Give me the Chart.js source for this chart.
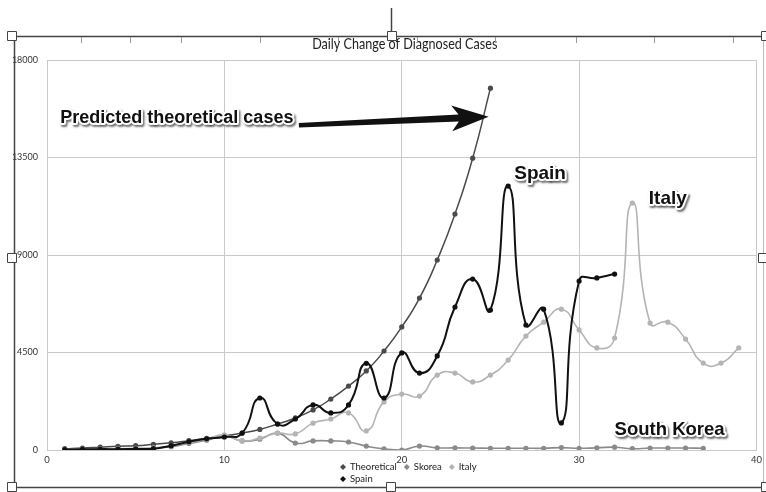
<!DOCTYPE html>
<html><head><meta charset="utf-8">
<script src="https://cdn.jsdelivr.net/npm/chart.js@4/dist/chart.umd.min.js"></script>
<style>html,body{margin:0;padding:0;background:#fff}canvas{display:block}</style>
</head><body>
<canvas id="c" width="766" height="492"></canvas>
<script>
const chartTitle = 'Daily Change of Diagnosed Cases';
const seriesNames = ['Theoretical', 'Skorea', 'Italy', 'Spain'];
const theoreticalDays = [1,2,3,4,5,6,7,8,9,10,11,12,13,14,15,16,17,18,19,20,21,22,23,24,25];
const theoretical = [60,90,130,170,200,260,330,430,540,650,780,950,1200,1480,1850,2350,2950,3650,4570,5680,7010,8770,10890,13470,16700];
const skoreaDays = [1,2,3,4,5,6,7,8,9,10,11,12,13,14,15,16,17,18,19,20,21,22,23,24,25,26,27,28,29,30,31,32,33,34,35,36,37];
const skorea = [30,30,40,50,60,80,150,300,450,650,420,500,780,320,420,420,370,180,50,0,180,100,100,90,80,80,80,80,110,80,100,130,60,90,90,90,80];
const italyDays = [1,2,3,4,5,6,7,8,9,10,11,12,13,14,15,16,17,18,19,20,21,22,23,24,25,26,27,28,29,30,31,32,33,34,35,36,37,38,39];
const italy = [20,30,50,60,80,100,200,350,500,700,420,550,780,740,1240,1430,1710,880,2220,2580,2490,3460,3550,3140,3460,4150,5260,5900,6500,5540,4710,5170,11400,5860,5900,5120,4010,4010,4710];
const spainDays = [1,2,3,4,5,6,7,8,9,10,11,12,13,14,15,16,17,18,19,20,21,22,23,24,25,26,27,28,29,30,31,32];
const spain = [20,30,40,40,50,60,200,380,520,600,780,2400,1200,1430,2080,1710,2080,4000,2400,4480,3550,4340,6600,7890,6460,12180,5770,6500,1250,7800,7940,8120];
const xTicks = [0,10,20,30,40];
const yTicks = [0,4500,9000,13500,18000];

const colors = ['#4a4a4a', '#8a8a8a', '#b4b4b4', '#111111'];
const uiFont = 'Lato, "Liberation Sans", sans-serif';

function pts(xs, ys){ return xs.map((x,i)=>({x:x, y:ys[i]})); }

function ds(label, data, color, width, order){
  return {label, data, borderColor: color, backgroundColor: color, borderWidth: width,
    pointRadius: 2.6, pointBorderWidth: 0, pointBackgroundColor: color, tension: 0.55, order};
}

// annotations (data coordinates)
const notes = [
  {text:'Predicted theoretical cases', x:0.75, y:15330, align:'left', size:18},
  {text:'Spain', x:27.8, y:12750, align:'center', size:19},
  {text:'Italy', x:35.0, y:11600, align:'center', size:19},
  {text:'South Korea', x:35.1, y:950, align:'center', size:18.5}
];
const arrow = {x1:14.2, y1:15000, x2:24.9, y2:15380};

const decor = {
  id:'decor',
  afterDatasetsDraw(chart){
    const ctx = chart.ctx, xs = chart.scales.x, ys = chart.scales.y;
    // arrow
    const ax1 = xs.getPixelForValue(arrow.x1), ay1 = ys.getPixelForValue(arrow.y1);
    const ax2 = xs.getPixelForValue(arrow.x2), ay2 = ys.getPixelForValue(arrow.y2);
    const ang = Math.atan2(ay2-ay1, ax2-ax1);
    ctx.save();
    ctx.translate(ax1, ay1); ctx.rotate(ang);
    const L = Math.hypot(ax2-ax1, ay2-ay1);
    ctx.fillStyle = '#111';
    ctx.beginPath();
    ctx.moveTo(0,-2); ctx.lineTo(L-30,-3.5); ctx.lineTo(L-37,-13); ctx.lineTo(L,0);
    ctx.lineTo(L-37,13); ctx.lineTo(L-30,3.5); ctx.lineTo(0,2.5); ctx.closePath();
    ctx.fill();
    ctx.restore();
    // texts
    ctx.save();
    ctx.textBaseline = 'middle';
    ctx.lineJoin = 'round';
    notes.forEach(n=>{
      ctx.font = 'bold ' + n.size + 'px "Liberation Sans", Arial, sans-serif';
      const px = xs.getPixelForValue(n.x), py = ys.getPixelForValue(n.y);
      ctx.textAlign = n.align;
      ctx.save();
      ctx.shadowColor = 'rgba(0,0,0,0.55)'; ctx.shadowBlur = 2; ctx.shadowOffsetX = 1.5; ctx.shadowOffsetY = 2;
      ctx.strokeStyle = '#fff'; ctx.lineWidth = 4;
      ctx.strokeText(n.text, px, py);
      ctx.restore();
      ctx.fillStyle = '#111';
      ctx.fillText(n.text, px, py);
    });
    ctx.restore();
  },
  afterDraw(chart){
    const ctx = chart.ctx, area = chart.chartArea;
    ctx.save();
    // title (condensed to mimic a narrow UI face)
    ctx.save();
    ctx.translate((area.left + area.right) / 2 + 3, 44);
    ctx.scale(0.84, 1);
    ctx.font = '15px ' + uiFont;
    ctx.fillStyle = '#222'; ctx.textAlign = 'center'; ctx.textBaseline = 'middle';
    ctx.fillText(chartTitle, 0, 0);
    ctx.restore();
    // legend
    ctx.font = '9.5px ' + uiFont;
    ctx.textBaseline = 'middle'; ctx.textAlign = 'left';
    const rows = [[0,1,2],[3]];
    const rowY = [467, 479];
    rows.forEach((r,ri)=>{
      let x = 340;
      r.forEach(i=>{
        const y = rowY[ri];
        ctx.fillStyle = colors[i];
        ctx.beginPath(); ctx.moveTo(x+3,y-3); ctx.lineTo(x+6,y); ctx.lineTo(x+3,y+3); ctx.lineTo(x,y); ctx.closePath(); ctx.fill();
        ctx.fillStyle = '#222';
        ctx.fillText(seriesNames[i], x+10, y);
        x += 10 + ctx.measureText(seriesNames[i]).width + 7;
      });
    });
    // selection frame
    ctx.strokeStyle = '#444'; ctx.lineWidth = 1.5;
    ctx.beginPath(); ctx.moveTo(10,36.5); ctx.lineTo(766,36.5); ctx.stroke();
    ctx.beginPath(); ctx.moveTo(14.5,36); ctx.lineTo(14.5,487); ctx.stroke();
    ctx.beginPath(); ctx.moveTo(10,487.5); ctx.lineTo(766,487.5); ctx.stroke();
    ctx.beginPath(); ctx.moveTo(391.5,8); ctx.lineTo(391.5,31); ctx.stroke();
    ctx.lineWidth = 1; ctx.strokeStyle = '#999';
    [81,130,181,260,338,417,495,576,654,733].forEach(t=>{ctx.beginPath();ctx.moveTo(t+0.5,37);ctx.lineTo(t+0.5,43);ctx.stroke();});
    ctx.strokeStyle = '#bbb';
    ctx.beginPath(); ctx.moveTo(763.5,37); ctx.lineTo(763.5,487); ctx.stroke();
    ctx.fillStyle = '#fff'; ctx.strokeStyle = '#444'; ctx.lineWidth = 1;
    [[12,36],[392,36],[12,258],[12,487],[391,487],[763,258],[766,36],[766,487]].forEach(h=>{
      ctx.beginPath(); ctx.rect(h[0]-4.5, h[1]-4.5, 9, 9); ctx.fill(); ctx.stroke();
    });
    ctx.restore();
  }
};

new Chart(document.getElementById('c'), {
  type: 'line',
  data: { datasets: [
    ds(seriesNames[0], pts(theoreticalDays, theoretical), colors[0], 1.5, 3),
    ds(seriesNames[1], pts(skoreaDays, skorea), colors[1], 1.6, 2),
    ds(seriesNames[2], pts(italyDays, italy), colors[2], 1.6, 1),
    ds(seriesNames[3], pts(spainDays, spain), colors[3], 2.0, 0)
  ]},
  options: {
    responsive: false, animation: false,
    layout: { padding: {left: 0, right: 8, top: 60, bottom: 0} },
    plugins: {
      legend: { display: false },
      tooltip: { enabled: false },
      title: { display: false }
    },
    scales: {
      x: { type: 'linear', min: 0, max: 40,
        afterBuildTicks: s => { s.ticks = xTicks.map(v=>({value:v})); },
        afterFit: s => { s.height = 42; },
        grid: { color: '#c9c9c9', drawTicks: false, lineWidth: 1 },
        border: { color: '#c9c9c9' },
        ticks: { color: '#333', padding: 4, font: {family: uiFont, size: 9.5} } },
      y: { min: 0, max: 18000,
        afterBuildTicks: s => { s.ticks = yTicks.map(v=>({value:v})); },
        afterFit: s => { s.width = 47; },
        grid: { color: '#c9c9c9', drawTicks: false, lineWidth: 1 },
        border: { color: '#c9c9c9' },
        ticks: { color: '#333', padding: 9, font: {family: uiFont, size: 9},
          callback: v => String(v) } }
    }
  },
  plugins: [decor]
});
</script>
</body></html>
